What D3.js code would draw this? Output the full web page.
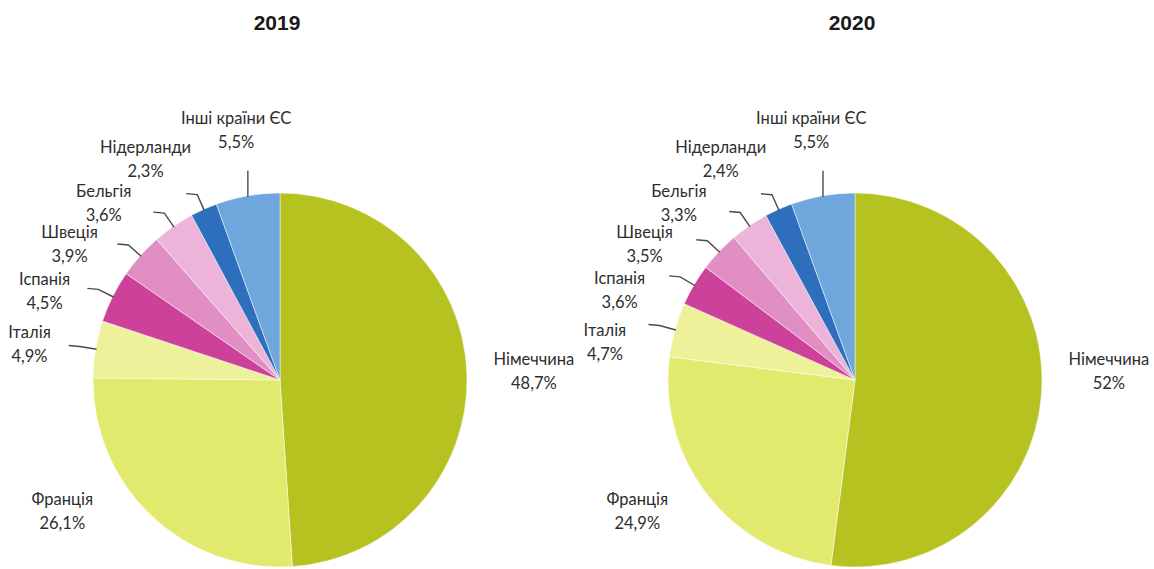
<!DOCTYPE html>
<html>
<head>
<meta charset="utf-8">
<script src="https://cdn.jsdelivr.net/npm/d3@7"></script>
<style>
  body { margin: 0; background: #fff; }
  text { font-family: Lato, "Open Sans", sans-serif; }
</style>
</head>
<body>
<script>
// categories, clockwise from 12 o'clock
var countries = ["Німеччина", "Франція", "Італія", "Іспанія", "Швеція", "Бельгія", "Нідерланди", "Інші країни ЄС"];
var years = ["2019", "2020"];
var values2019 = [48.7, 26.1, 4.9, 4.5, 3.9, 3.6, 2.3, 5.5];
var values2020 = [52, 24.9, 4.7, 3.6, 3.5, 3.3, 2.4, 5.5];
var colors = ["#b5c21f", "#e2ea6e", "#eef09a", "#cc4199", "#e08ec4", "#ecb4d8", "#2e6fbd", "#6fa6dc"];

var width = 1154, height = 569;
var radius = 187;
var labelRadius = 254;
var centers = [280, 855];
var centerY = 380;

var svg = d3.select("body").append("svg")
  .attr("width", width)
  .attr("height", height);

function fmt(v) {
  return String(v).replace(".", ",") + "%";
}

var pie = d3.pie().sort(null).value(d => d);
var arc = d3.arc().innerRadius(0).outerRadius(radius);
var toRad = Math.PI / 180;

function polar(angleDeg, r) {
  return [r * Math.sin(angleDeg * toRad), -r * Math.cos(angleDeg * toRad)];
}

function drawPie(values, cx, title) {
  var g = svg.append("g").attr("transform", "translate(" + cx + "," + centerY + ")");
  var arcs = pie(values);

  svg.append("text")
    .attr("x", cx - 3)
    .attr("y", 30)
    .attr("text-anchor", "middle")
    .style("font-family", "'Liberation Sans', Arial, sans-serif")
    .style("font-weight", "bold")
    .style("font-size", "21px")
    .style("fill", "#1a1a1a")
    .text(title);

  g.selectAll("path")
    .data(arcs)
    .enter()
    .append("path")
    .attr("d", arc)
    .attr("fill", (d, i) => colors[i])
    .attr("stroke", "rgba(255,255,255,0.6)")
    .attr("stroke-width", 0.8);

  // spread small-slice labels so they don't collide, going down from the top
  var labelAngles = [];
  var prev = null;
  for (var i = arcs.length - 1; i >= 0; i--) {
    var mid = (arcs[i].startAngle + arcs[i].endAngle) / 2 / toRad;
    if (i === 0) { labelAngles[i] = 88; continue; }
    if (i === 1) { labelAngles[i] = 239; continue; }
    var a = mid;
    if (prev !== null) {
      var gap = (i === arcs.length - 2) ? 22 : 12;
      a = Math.min(mid, prev - gap);
    }
    labelAngles[i] = a;
    prev = a;
  }

  arcs.forEach(function(d, i) {
    var mid = (d.startAngle + d.endAngle) / 2 / toRad;
    var lp = polar(labelAngles[i], labelRadius);
    // side labels sit a little lower than the ring point, the upper ones a bit higher
    var dy = 0;
    if (i >= 2 && i <= 5) dy = 6;
    if (i === 6) dy = -5;

    if (i >= 2) {
      var p = polar(mid, radius - 1);
      var pts;
      if (i === arcs.length - 1) {
        pts = [p, [p[0], p[1] - 26]];
      } else {
        var e = polar(mid, radius + 16);
        pts = [p, e, [e[0] - 11, e[1] - 1]];
      }
      g.append("path")
        .attr("d", d3.line()(pts))
        .attr("fill", "none")
        .attr("stroke", "#4a4a4a")
        .attr("stroke-width", 1.4);
    }

    var t = g.append("text")
      .attr("text-anchor", "middle")
      .style("font-size", "16.5px")
      .style("fill", "#2e2e2e");
    t.append("tspan").attr("x", lp[0]).attr("y", lp[1] - 6 + dy).text(countries[i]);
    t.append("tspan").attr("x", lp[0]).attr("y", lp[1] + 18 + dy).text(fmt(values[i]));
  });
}

drawPie(values2019, centers[0], years[0]);
drawPie(values2020, centers[1], years[1]);
</script>
</body>
</html>
